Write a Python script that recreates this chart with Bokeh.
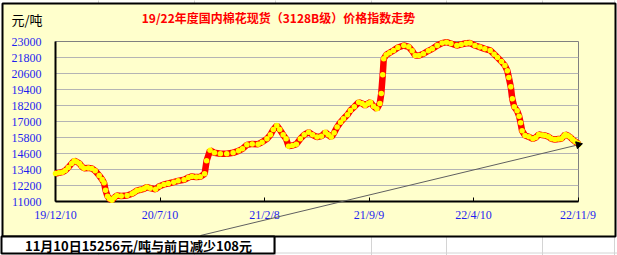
import pandas as pd
from bokeh.plotting import figure
from bokeh.models import Range1d, FixedTicker, NumeralTickFormatter, ColumnDataSource
from bokeh.core.properties import value
from bokeh.embed import file_html
from bokeh.resources import INLINE

# ---------------- data ----------------
dates = [
    "2019-12-10", "2019-12-17", "2019-12-24", "2019-12-30", "2020-01-05", "2020-01-12",
    "2020-01-17", "2020-01-22", "2020-01-28", "2020-02-01", "2020-02-06", "2020-02-15",
    "2020-02-22", "2020-02-29", "2020-03-08", "2020-03-14", "2020-03-18", "2020-03-21",
    "2020-03-25", "2020-03-29", "2020-04-03", "2020-04-08", "2020-04-13", "2020-04-22",
    "2020-05-04", "2020-05-14", "2020-05-19", "2020-05-24", "2020-05-31", "2020-06-07",
    "2020-06-13", "2020-06-20", "2020-07-01", "2020-07-09", "2020-07-18", "2020-07-27",
    "2020-08-07", "2020-08-16", "2020-08-28", "2020-09-06", "2020-09-13", "2020-09-22",
    "2020-09-30", "2020-10-09", "2020-10-13", "2020-10-20", "2020-10-29", "2020-11-10",
    "2020-11-23", "2020-12-06", "2020-12-17", "2020-12-25", "2021-01-03", "2021-01-14",
    "2021-01-26", "2021-02-03", "2021-02-13", "2021-02-20", "2021-02-26", "2021-03-05",
    "2021-03-11", "2021-03-18", "2021-03-24", "2021-03-29", "2021-04-06", "2021-04-14",
    "2021-04-22", "2021-04-30", "2021-05-09", "2021-05-17", "2021-05-26", "2021-06-04",
    "2021-06-12", "2021-06-18", "2021-06-24", "2021-06-30", "2021-07-06", "2021-07-13",
    "2021-07-19", "2021-07-27", "2021-08-02", "2021-08-10", "2021-08-19", "2021-08-26",
    "2021-09-01", "2021-09-07", "2021-09-12", "2021-09-18", "2021-09-25", "2021-10-01",
    "2021-10-04", "2021-10-07", "2021-10-09", "2021-10-14", "2021-10-21", "2021-10-29",
    "2021-11-07", "2021-11-19", "2021-11-29", "2021-12-06", "2021-12-12", "2021-12-20",
    "2021-12-29", "2022-01-08", "2022-01-16", "2022-01-26", "2022-02-05", "2022-02-14",
    "2022-02-23", "2022-03-07", "2022-03-16", "2022-03-26", "2022-04-03", "2022-04-13",
    "2022-04-23", "2022-05-03", "2022-05-14", "2022-05-22", "2022-05-29", "2022-06-06",
    "2022-06-13", "2022-06-18", "2022-06-21", "2022-06-25", "2022-06-28", "2022-07-02",
    "2022-07-08", "2022-07-12", "2022-07-15", "2022-07-18", "2022-07-24", "2022-08-01",
    "2022-08-09", "2022-08-15", "2022-08-21", "2022-08-28", "2022-09-03", "2022-09-10",
    "2022-09-16", "2022-09-23", "2022-09-30", "2022-10-06", "2022-10-11", "2022-10-14",
    "2022-10-19", "2022-10-24", "2022-10-29", "2022-11-03", "2022-11-09", "2022-11-10",
]
prices = [
    13100, 13150, 13200, 13325, 13550, 13850,
    14050, 13980, 13850, 13650, 13500, 13520,
    13480, 13300, 12950, 12650, 12400, 11850,
    11400, 11200, 11100, 11300, 11450, 11420,
    11450, 11580, 11700, 11820, 11880, 11950,
    12080, 12000, 11920, 12150, 12280, 12350,
    12450, 12550, 12630, 12800, 12880, 12830,
    12850, 13080, 14050, 14850, 14650, 14580,
    14580, 14650, 14800, 14950, 15250, 15320,
    15300, 15450, 15700, 16000, 16400, 16700,
    16400, 16000, 15700, 15150, 15200, 15300,
    15700, 16000, 16200, 16000, 15830, 15900,
    16200, 16000, 15830, 16150, 16580, 16950,
    17200, 17500, 17830, 18100, 18450, 18350,
    18200, 18350, 18450, 18150, 17950, 18350,
    19100, 20500, 21700, 22000, 22150, 22330,
    22550, 22700, 22600, 22300, 21950, 21950,
    22080, 22300, 22450, 22700, 22880, 22950,
    22850, 22700, 22780, 22870, 22880, 22700,
    22580, 22450, 22330, 22050, 21800, 21500,
    21200, 20800, 20300, 19600, 18700, 18100,
    17800, 17400, 16900, 16300, 15950, 15850,
    15700, 15800, 16030, 15980, 15950, 15850,
    15700, 15650, 15680, 15700, 15900, 16030,
    15950, 15830, 15650, 15500, 15364, 15256,
]
y_ticks = [11000, 12200, 13400, 14600, 15800, 17000, 18200, 19400, 20600, 21800, 23000]
x_tick_dates = ["2019-12-10", "2020-07-10", "2021-02-08", "2021-09-09", "2022-04-10", "2022-11-09"]
x_tick_labels = ["19/12/10", "20/7/10", "21/2/8", "21/9/9", "22/4/10", "22/11/9"]
title_text = "19/22年度国内棉花现货（3128B级）价格指数走势"
unit_text = "元/吨"
note_text = "11月10日15256元/吨与前日减少108元"

# ---------------- layout (pixels) ----------------
W, H = 617, 255
L, R, T, B = 55, 578, 41, 201
YELLOW = "#FFFFCC"

x0 = pd.Timestamp("2019-12-10")
x1 = pd.Timestamp("2022-11-10")
y0, y1 = 11000, 23000

p = figure(width=W, height=H, x_axis_type="datetime",
           x_range=Range1d(x0, x1), y_range=Range1d(y0, y1),
           output_backend="svg", toolbar_location=None,
           min_border_left=L, min_border_right=W - R,
           min_border_top=T, min_border_bottom=H - B)
p.extra_x_ranges = {"px": Range1d(L, R)}
p.extra_y_ranges = {"px": Range1d(B, T)}

p.background_fill_color = YELLOW
p.border_fill_color = YELLOW
p.outline_line_color = "#808080"
p.outline_line_width = 1

# axes
tick_ms = [int(pd.Timestamp(d).value // 10**6) for d in x_tick_dates]
p.xaxis.ticker = FixedTicker(ticks=tick_ms)
p.xaxis.major_label_overrides = dict(zip(tick_ms, x_tick_labels))
p.yaxis.ticker = FixedTicker(ticks=y_ticks)
p.yaxis.formatter = NumeralTickFormatter(format="0")
for ax in (p.xaxis[0], p.yaxis[0]):
    ax.axis_line_color = "black"
    ax.axis_line_width = 2
    ax.major_label_text_color = "#1F1FEF"
    ax.major_label_text_font = "Liberation Serif"
    ax.major_label_text_font_size = "12px"
    ax.minor_tick_line_color = None
    ax.major_tick_out = 0
p.xaxis.major_tick_in = 4
p.xaxis.major_tick_line_color = "black"
p.xaxis.major_label_standoff = 6
p.yaxis.major_tick_in = 0
p.yaxis.major_tick_line_color = None
p.yaxis.major_label_standoff = 14
p.xgrid.visible = False
p.ygrid.grid_line_color = "#B4B4B4"
p.ygrid.grid_line_width = 1

# arrow from note box to last point
def px_to_x(px):
    return x0 + (x1 - x0) * ((px - L) / (R - L))

def px_to_y(py):
    return y0 + (y1 - y0) * ((B - py) / (B - T))

last_x = pd.Timestamp(dates[-1])
last_y = prices[-1]
p.segment(x0=[px_to_x(200)], y0=[px_to_y(235)], x1=[last_x], y1=[last_y],
          line_color="#606060", line_width=1, level="annotation")

# data line: red line with yellow markers
src = ColumnDataSource(dict(date=pd.to_datetime(dates), price=prices))
p.line("date", "price", source=src, line_color="#FF0000", line_width=6.5, level="annotation")
p.scatter("date", "price", source=src, marker="circle", size=5.5,
          fill_color="#FFFF00", line_color=None, level="annotation")
p.scatter(x=[last_x], y=[last_y], marker="triangle", size=7, angle=-1.33,
          fill_color="black", line_color="black", level="annotation")

# outside (sheet) area: white strips, cell lines
p.quad(left=[0, 0, 0, 615], right=[617, 617, 2, 617], bottom=[0, 236, 0, 0], top=[3, 255, 255, 255],
       fill_color="white", line_color=None, x_range_name="px", y_range_name="px", level="overlay")
vx = [98, 194, 275, 371, 446, 542, 614]
p.segment(x0=vx, y0=[0] * len(vx), x1=vx, y1=[3] * len(vx), line_color="#D4D4D4",
          x_range_name="px", y_range_name="px", level="overlay")
p.segment(x0=vx, y0=[236] * len(vx), x1=vx, y1=[255] * len(vx), line_color="#D4D4D4",
          x_range_name="px", y_range_name="px", level="overlay")
p.segment(x0=[0], y0=[252.5], x1=[617], y1=[252.5], line_color="#D4D4D4",
          x_range_name="px", y_range_name="px", level="overlay")
# chart box border
p.quad(left=[2], right=[615], bottom=[3], top=[236], fill_alpha=0, line_color="black", line_width=2,
       x_range_name="px", y_range_name="px", level="overlay")
# note box
p.quad(left=[1], right=[274], bottom=[236], top=[253], fill_color="white", line_color="black", line_width=2,
       x_range_name="px", y_range_name="px", level="overlay")

# texts
p.text(x=[278], y=[16.5], text=[title_text], text_font=value("Noto Sans CJK SC"),
       text_font_style="bold", text_font_size="12px", text_color="#FF0000",
       text_align="center", text_baseline="middle", x_range_name="px", y_range_name="px", level="overlay")
p.text(x=[11], y=[19], text=[unit_text], text_font=value("Noto Sans CJK SC"),
       text_font_size="13px", text_color="black",
       text_align="left", text_baseline="middle", x_range_name="px", y_range_name="px", level="overlay")
p.text(x=[138], y=[244.5], text=[note_text], text_font=value("Noto Sans CJK SC"),
       text_font_style="bold", text_font_size="13px", text_color="black",
       text_align="center", text_baseline="middle", x_range_name="px", y_range_name="px", level="overlay")

open("out.html", "w").write(file_html(p, INLINE))
